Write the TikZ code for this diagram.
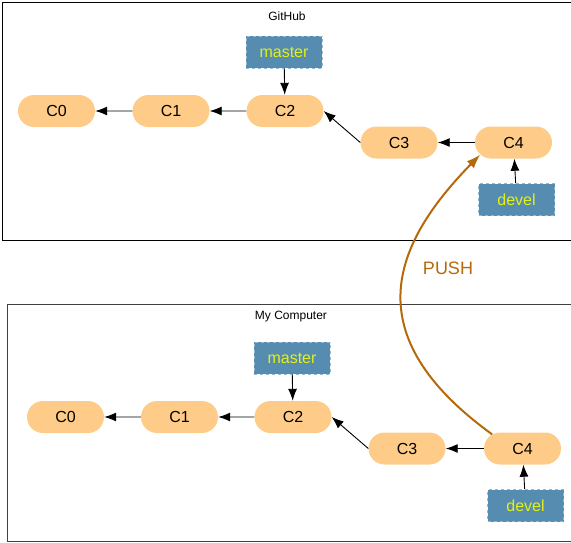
\documentclass[tikz,border=0pt]{standalone}
\usepackage{fontspec}
\setmainfont{Liberation Sans}
\usetikzlibrary{shapes.misc,arrows.meta}
\definecolor{commitfill}{RGB}{254,204,136}
\definecolor{reffill}{RGB}{86,140,176}
\definecolor{refborder}{RGB}{150,185,210}
\definecolor{reftext}{RGB}{228,240,20}
\definecolor{pushcol}{RGB}{182,105,10}
\begin{document}
\begin{tikzpicture}[x=1pt,y=-1pt,
  commit/.style={rounded rectangle,fill=commitfill,minimum width=77pt,minimum height=32pt,inner sep=0pt,font=\fontsize{16}{19}\selectfont},
  refbox/.style={rectangle,fill=reffill,draw=refborder,dashed,line width=0.6pt,minimum width=76pt,minimum height=32pt,inner sep=0pt,text=reftext,font=\fontsize{16}{19}\selectfont},
  link/.style={-{Latex[length=12pt,width=9pt]},line width=0.9pt,black},
  frame/.style={line width=0.9pt},
  title/.style={font=\fontsize{12}{14}\selectfont}]
\useasboundingbox (0,0) rectangle (571,542);
% frames
\draw[frame] (580,2) -- (2,2) -- (2,240) -- (580,240);
\draw[frame,black!75] (580,304) -- (7,304) -- (7,541) -- (580,541);
\node[title] (tgh) at (287,16) {GitHub};
\node[title] (tmc) at (291,317) {My Computer};
% top commits
\node[commit] (tC0) at (56.5,111) {C0};
\node[commit] (tC1) at (171,111) {C1};
\node[commit] (tC2) at (285,111) {C2};
\node[commit] (tC3) at (399,142.5) {C3};
\node[commit] (tC4) at (513.5,142.5) {C4};
\node[refbox] (tmaster) at (284,52) {master};
\node[refbox] (tdevel) at (516.5,199.5) {devel};
\draw[link] (tC1) -- (tC0);
\draw[link] (tC2) -- (tC1);
\draw[link] (tC3.west) -- (tC2.east);
\draw[link] (tC4) -- (tC3);
\draw[link] (tmaster) -- (tC2);
\draw[link] (tdevel) -- (tC4);
% bottom commits
\node[commit] (bC0) at (65.5,417) {C0};
\node[commit] (bC1) at (179.5,417) {C1};
\node[commit] (bC2) at (293,417) {C2};
\node[commit] (bC3) at (407,448.5) {C3};
\node[commit] (bC4) at (522.5,448.5) {C4};
\node[refbox] (bmaster) at (292,358) {master};
\node[refbox] (bdevel) at (525.5,505.5) {devel};
\draw[link] (bC1) -- (bC0);
\draw[link] (bC2) -- (bC1);
\draw[link] (bC3.west) -- (bC2.east);
\draw[link] (bC4) -- (bC3);
\draw[link] (bmaster) -- (bC2);
\draw[link] (bdevel) -- (bC4);
% push
\draw[-{Latex[length=14pt,width=10pt]},line width=2pt,pushcol] (bC4.155) .. controls (355,335) and (392,245) .. (tC4.200);
\node[text=pushcol,font=\fontsize{18}{21}\selectfont] (push) at (448,268) {PUSH};
\end{tikzpicture}
\end{document}
